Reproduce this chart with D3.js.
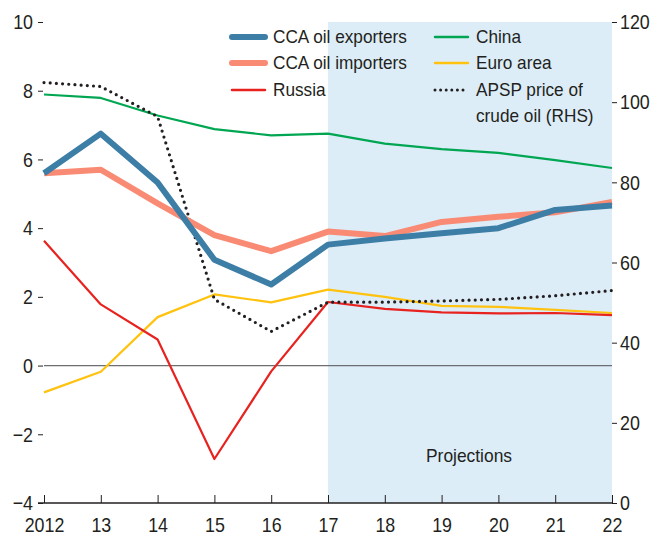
<!DOCTYPE html>
<html>
<head>
<meta charset="utf-8">
<script src="https://cdn.jsdelivr.net/npm/d3@7"></script>
<style>
    body { margin: 0; background: #fff; }
    svg text { font-family: "Liberation Sans", Arial, sans-serif; fill: #231f20; }
</style>
</head>
<body>
<svg id="chart" width="654" height="535"></svg>
<script>
// Data.
var years = [2012, 2013, 2014, 2015, 2016, 2017, 2018, 2019, 2020, 2021, 2022];
var yearLabels = ['2012', '13', '14', '15', '16', '17', '18', '19', '20', '21', '22'];
var ccaExporters = [5.6, 6.75, 5.33, 3.08, 2.36, 3.52, 3.7, 3.85, 4.0, 4.53, 4.66];
var ccaImporters = [5.6, 5.7, 4.72, 3.8, 3.33, 3.9, 3.77, 4.18, 4.33, 4.46, 4.76];
var russia = [3.63, 1.78, 0.76, -2.72, -0.17, 1.85, 1.65, 1.55, 1.52, 1.53, 1.47];
var china = [7.89, 7.79, 7.28, 6.88, 6.7, 6.75, 6.46, 6.3, 6.19, 5.98, 5.75];
var euroArea = [-0.78, -0.18, 1.41, 2.07, 1.84, 2.21, 2.0, 1.74, 1.71, 1.62, 1.53];
var oilPrice = [104.9, 103.9, 96.4, 50.8, 42.8, 50.1, 50.1, 50.4, 50.8, 51.7, 53.0];
var leftTicks = [-4, -2, 0, 2, 4, 6, 8, 10];
var rightTicks = [0, 20, 40, 60, 80, 100, 120];
var projectionStart = 2017;

var svg = d3.select('#chart'),
    _plot = { left: 44, right: 612, top: 22, bottom: 503 },
    _x = d3.scaleLinear().domain([2012, 2022]).range([_plot.left, _plot.right]),
    _yL = d3.scaleLinear().domain([-4, 10]).range([_plot.bottom, _plot.top]),
    _yR = d3.scaleLinear().domain([0, 120]).range([_plot.bottom, _plot.top]);

// No condensed font installed, so squeeze the glyphs of a text selection.
function condense(sel, ratio) {
    sel.each(function () {
        var w = this.getComputedTextLength();
        d3.select(this)
            .attr('textLength', w * ratio)
            .attr('lengthAdjust', 'spacingAndGlyphs');
    });
}

// Projections shading.
svg.append('rect')
    .attr('x', _x(projectionStart))
    .attr('y', _plot.top)
    .attr('width', _x(2022) - _x(projectionStart))
    .attr('height', _plot.bottom - _plot.top)
    .attr('fill', '#dcedf8');

svg.append('text')
    .attr('x', 426)
    .attr('y', 462)
    .attr('font-size', 18.5)
    .text('Projections')
    .call(condense, 0.94);

// Zero line.
svg.append('line')
    .attr('x1', _plot.left).attr('x2', _plot.right)
    .attr('y1', _yL(0)).attr('y2', _yL(0))
    .attr('stroke', '#6d6e71')
    .attr('stroke-width', 1.2);

// Axes.
var leftAxis = svg.append('g')
    .attr('transform', 'translate(' + (_plot.left - 1) + ',0)')
    .call(d3.axisLeft(_yL).tickValues(leftTicks).tickSize(5).tickPadding(5)
        .tickFormat(d => d < 0 ? '\u2212' + Math.abs(d) : d));
var rightAxis = svg.append('g')
    .attr('transform', 'translate(' + _plot.right + ',0)')
    .call(d3.axisRight(_yR).tickValues(rightTicks).tickSize(5).tickPadding(3));
var bottomAxis = svg.append('g')
    .attr('transform', 'translate(0,' + _plot.bottom + ')')
    .call(d3.axisBottom(_x).tickValues(years).tickSizeInner(-8).tickSizeOuter(0)
        .tickFormat((d, i) => yearLabels[i]));

[leftAxis, rightAxis].forEach(function (ax) {
    ax.select('.domain').remove();
    ax.selectAll('line').attr('stroke', '#231f20').attr('stroke-width', 1);
    ax.selectAll('text').attr('font-size', 21).attr('fill', '#231f20').attr('font-family', null)
        .call(condense, 0.85);
});
bottomAxis.select('.domain').attr('stroke', '#231f20').attr('stroke-width', 1.5)
    .attr('d', 'M' + (_plot.left - 6) + ',0H' + _plot.right);
bottomAxis.selectAll('line').attr('stroke', '#231f20');
bottomAxis.selectAll('text')
    .attr('font-size', 21)
    .attr('fill', '#231f20')
    .attr('font-family', null)
    .attr('y', 29)
    .attr('dy', 0)
    .call(condense, 0.85);

// Series.
var series = [
    { name: 'Euro area', values: euroArea, color: '#ffc20e', width: 2.2, scale: _yL },
    { name: 'Russia', values: russia, color: '#e8221f', width: 2.2, scale: _yL },
    { name: 'China', values: china, color: '#00a651', width: 2.2, scale: _yL },
    { name: 'APSP', values: oilPrice, color: '#231f20', width: 3.2, scale: _yR, dots: true },
    { name: 'CCA oil importers', values: ccaImporters, color: '#f98b74', width: 6, scale: _yL },
    { name: 'CCA oil exporters', values: ccaExporters, color: '#3d7ea6', width: 6, scale: _yL }
];

series.forEach(function (s) {
    var line = d3.line()
        .x((d, i) => _x(years[i]))
        .y(d => s.scale(d));
    var path = svg.append('path')
        .datum(s.values)
        .attr('d', line)
        .attr('fill', 'none')
        .attr('stroke', s.color)
        .attr('stroke-width', s.width)
        .attr('stroke-linejoin', 'round');
    if (s.dots) {
        path.attr('stroke-dasharray', '0,6.2').attr('stroke-linecap', 'round');
    }
});

// Legend.
var legendItems = [
    { text: ['CCA oil exporters'], color: '#3d7ea6', width: 6, x: 230, y: 37 },
    { text: ['CCA oil importers'], color: '#f98b74', width: 6, x: 230, y: 63 },
    { text: ['Russia'], color: '#e8221f', width: 2.5, x: 230, y: 90 },
    { text: ['China'], color: '#00a651', width: 2.5, x: 433, y: 37 },
    { text: ['Euro area'], color: '#ffc20e', width: 2.5, x: 433, y: 63 },
    { text: ['APSP price of', 'crude oil (RHS)'], color: '#231f20', width: 3, x: 433, y: 90, dots: true }
];

legendItems.forEach(function (item) {
    var g = svg.append('g').attr('transform', 'translate(' + item.x + ',' + item.y + ')');
    var sw = g.append('line')
        .attr('x1', 2).attr('x2', 35)
        .attr('stroke', item.color)
        .attr('stroke-width', item.width)
        .attr('stroke-linecap', 'round');
    if (item.dots) sw.attr('stroke-dasharray', '0,5.6');
    item.text.forEach(function (t, i) {
        g.append('text')
            .attr('x', 43)
            .attr('y', 6 + i * 26)
            .attr('font-size', 18.5)
            .text(t)
            .call(condense, 0.93);
    });
});
</script>
</body>
</html>
